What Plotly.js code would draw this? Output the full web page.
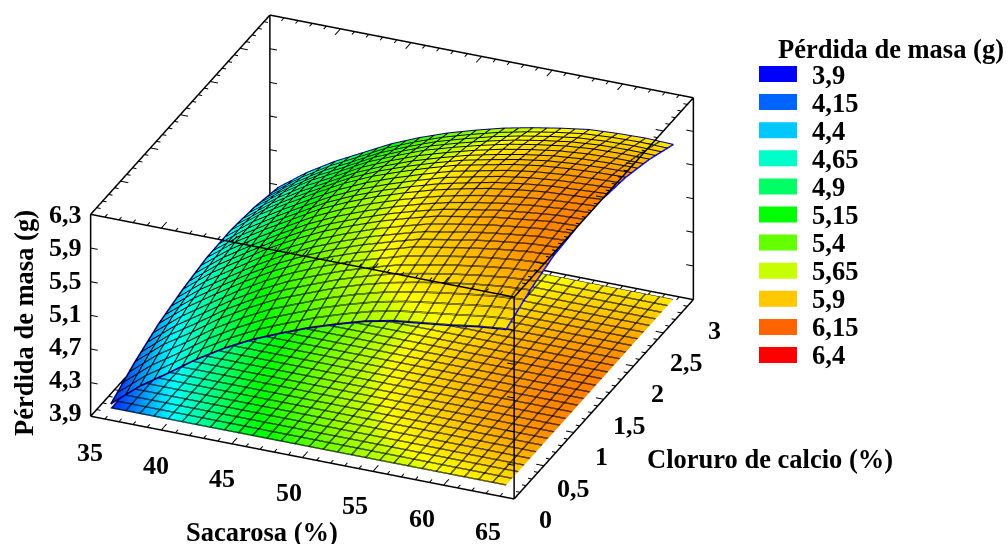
<!DOCTYPE html>
<html>
<head>
<meta charset="utf-8">
<script src="https://cdn.plot.ly/plotly-3.0.1.min.js"></script>
<style>html,body{margin:0;padding:0;background:#fff}#g{width:1008px;height:544px}</style>
</head>
<body>
<div id="g"></div>
<script>
// ---- data ----
const sacarosa = [36,38,40,42,44,46,48,50,52,54,56,58,60,62,63.8,63.9,64];
const cloruro = [0.1,0.5,0.9,1.3,1.7,2.1,2.5,2.9];
const perdida = [
 [4.00,4.27,4.49,4.72,4.92,5.09,5.23,5.36,5.47,5.57,5.64,5.68,5.72,5.77,5.80,5.80,5.80],
 [4.18,4.45,4.66,4.89,5.08,5.25,5.38,5.51,5.62,5.71,5.78,5.84,5.89,5.93,5.95,5.95,5.95],
 [4.32,4.58,4.80,5.01,5.20,5.36,5.50,5.62,5.72,5.82,5.88,5.94,5.99,6.03,6.05,6.05,6.05],
 [4.41,4.67,4.88,5.09,5.27,5.43,5.56,5.68,5.78,5.87,5.93,5.99,6.03,6.07,6.08,6.08,6.08],
 [4.47,4.72,4.93,5.12,5.31,5.46,5.59,5.70,5.80,5.88,5.95,6.00,6.04,6.06,6.08,6.08,6.08],
 [4.48,4.73,4.93,5.12,5.30,5.45,5.57,5.68,5.78,5.85,5.92,5.97,6.00,6.02,6.03,6.03,6.03],
 [4.44,4.68,4.89,5.06,5.24,5.38,5.51,5.61,5.70,5.78,5.84,5.89,5.92,5.93,5.93,5.93,5.93],
 [4.36,4.60,4.80,4.97,5.14,5.28,5.40,5.50,5.59,5.66,5.72,5.77,5.79,5.80,5.79,5.79,5.79]
];
const floorLevel = 3.95;
const legendLevels = ['3,9','4,15','4,4','4,65','4,9','5,15','5,4','5,65','5,9','6,15','6,4'];
const legendValues = [3.9,4.15,4.4,4.65,4.9,5.15,5.4,5.65,5.9,6.15,6.4];
const legendColors = ['#0000ff','#0064ff','#00c8ff','#00ffc8','#00ff64','#00ff00','#64ff00','#c8ff00','#ffc800','#ff6400','#ff0000'];
const hueStopValues = [4.525,5.72];
const hueStopColors = ['#00ffff','#ffff00'];
const xTicks = [35,40,45,50,55,60,65];
const yTicks = [0,0.5,1,1.5,2,2.5,3];
const yTickText = ['0','0,5','1','1,5','2','2,5','3'];
const zTicks = [3.9,4.3,4.7,5.1,5.5,5.9,6.3];
const zTickText = ['3,9','4,3','4,7','5,1','5,5','5,9','6,3'];
const xMinorStep = 1, yMinorStep = 0.1;
const xRange = [35,65], yRange = [0,3], zRange = [3.9,6.3];

// ---- style ----
const W = 1008, H = 544;
const FONT = '"Liberation Serif","Times New Roman",serif';
const cMin = legendValues[0], cMax = legendValues[legendValues.length-1];
const colorscale = [...legendValues.map((v,i)=>[v,legendColors[i]]),...hueStopValues.map((v,i)=>[v,hueStopColors[i]])]
  .sort((a,b)=>a[0]-b[0]).map(([v,c])=>[(v-cMin)/(cMax-cMin),c]);
const meshLine = {show:true,color:'#000',width:2,highlight:false,project:{x:false,y:false,z:false},usecolormap:false};
const meshAt = (dx,dy)=>({
  x:Object.assign({start:36+dx,end:64.01,size:xMinorStep},meshLine),
  y:Object.assign({start:0.1+dy,end:2.91,size:yMinorStep},meshLine),
  z:{show:false,highlight:false}
});
const flat = {ambient:1,diffuse:0,specular:0,roughness:1,fresnel:0};
const common = {x:sacarosa,y:cloruro,colorscale,cmin:cMin,cmax:cMax,
  showscale:false,hoverinfo:'skip',lighting:flat};

// box + ticks
const lx=[],ly=[],lz=[]; const tx=[],ty=[],tz=[];
function seg(a,x0,y0,z0,x1,y1,z1){a[0].push(x0,x1,null);a[1].push(y0,y1,null);a[2].push(z0,z1,null);}
const L=[lx,ly,lz],T=[tx,ty,tz];
const [x0,x1]=xRange,[y0,y1]=yRange,[z0,z1]=zRange;
[[y0,z0],[y1,z0],[y0,z1],[y1,z1]].forEach(([y,z])=>seg(L,x0,y,z,x1,y,z));
[[x0,z0],[x1,z0],[x0,z1],[x1,z1]].forEach(([x,z])=>seg(L,x,y0,z,x,y1,z));
[[x0,y0],[x1,y0],[x0,y1],[x1,y1]].forEach(([x,y])=>seg(L,x,y,z0,x,y,z1));
for(let v=x0;v<=x1+1e-6;v+=xMinorStep){
  const major=Math.abs((v-x0)%5)<1e-6, len=major?0.09:0.045;
  [[y0,1],[y1,-1]].forEach(([y,s])=>[z0,z1].forEach(z=>seg(T,v,y,z,v,y+s*len,z)));
}
for(let i=0;i<=30;i++){
  const v=y0+i*yMinorStep, major=i%5===0, len=major?0.55:0.28;
  [[x0,1],[x1,-1]].forEach(([x,s])=>[z0,z1].forEach(z=>seg(T,x,v,z,x+s*len,v,z)));
}
zTicks.forEach(v=>[[x0,1],[x1,-1]].forEach(([x,s])=>[y0,y1].forEach(y=>seg(T,x,y,v,x+s*0.5,y,v))));

// blue rim of the upper sheet
const n=sacarosa.length-1,m=cloruro.length-1;
const rimX=[...sacarosa,...cloruro.slice(1).map(()=>sacarosa[n]),...sacarosa.slice(0,n).reverse(),...cloruro.slice(0,m).reverse().map(()=>sacarosa[0])];
const rimY=[...sacarosa.map(()=>cloruro[0]),...cloruro.slice(1),...sacarosa.slice(0,n).map(()=>cloruro[m]),...cloruro.slice(0,m).reverse()];
const rimZ=[...perdida[0],...perdida.slice(1).map(r=>r[n]),...perdida[m].slice(0,n).reverse(),...perdida.slice(0,m).reverse().map(r=>r[0])];

const floorZ = perdida.map(r=>r.map(()=>floorLevel));
const traces=[
 Object.assign({type:'surface',z:floorZ,surfacecolor:perdida,contours:meshAt(0,0)},common),
 Object.assign({type:'surface',z:floorZ,surfacecolor:perdida,contours:meshAt(0.07,0.011),hidesurface:true},common),
 Object.assign({type:'surface',z:perdida,surfacecolor:perdida,contours:meshAt(0,0)},common),
 Object.assign({type:'surface',z:perdida,surfacecolor:perdida,contours:meshAt(0.07,0.011),hidesurface:true},common),
 {type:'scatter3d',mode:'lines',x:rimX,y:rimY,z:rimZ,line:{color:'#0000ff',width:3},hoverinfo:'skip',showlegend:false},
 {type:'scatter3d',mode:'lines',x:lx,y:ly,z:lz,line:{color:'#000',width:3},hoverinfo:'skip',showlegend:false,connectgaps:false},
 {type:'scatter3d',mode:'lines',x:tx,y:ty,z:tz,line:{color:'#000',width:2},hoverinfo:'skip',showlegend:false,connectgaps:false}
];

const tickFont={family:FONT,size:26,color:'#000'};
const sceneAnn=[];
xTicks.forEach((v,i)=>sceneAnn.push({x:v,y:y0,z:z0,text:'<b>'+v+'</b>',showarrow:false,font:tickFont,xanchor:'center',yanchor:'middle',xshift:-1-i*25/6,yshift:-36+i*0.5}));
yTicks.forEach((v,i)=>sceneAnn.push({x:x1,y:v,z:z0,text:'<b>'+yTickText[i]+'</b>',showarrow:false,font:tickFont,xanchor:'center',yanchor:'middle',xshift:31-i*10/6,yshift:-21-i*10/6}));
zTicks.forEach((v,i)=>sceneAnn.push({x:x0,y:y0,z:v,text:'<b>'+zTickText[i]+'</b>',showarrow:false,font:tickFont,xanchor:'right',yanchor:'middle',xshift:-7,yshift:4-i*4/6}));

const blank={showgrid:false,zeroline:false,showline:false,showticklabels:false,ticks:'',showspikes:false,showbackground:false,title:{text:''}};
const px=(v)=>v/W, py=(v)=>1-v/H;
const shapes=legendColors.map((c,i)=>({type:'rect',xref:'paper',yref:'paper',
  x0:px(759),x1:px(797),y0:py(66+i*28.1),y1:py(82+i*28.1),fillcolor:c,line:{width:0}}));
const annFont={family:FONT,size:26.5,color:'#000'};
const mid={xref:'paper',yref:'paper',showarrow:false,font:annFont,xanchor:'center',yanchor:'middle'};
const ann=[
 Object.assign({},mid,{x:px(891),y:py(49),text:'<b>Pérdida de masa (g)</b>'}),
 Object.assign({},mid,{x:px(262),y:py(532),text:'<b>Sacarosa (%)</b>'}),
 Object.assign({},mid,{x:px(770),y:py(459),text:'<b>Cloruro de calcio (%)</b>'}),
 Object.assign({},mid,{x:px(24),y:py(323),text:'<b>Pérdida de masa (g)</b>',textangle:-90}),
 ...legendLevels.map((t,i)=>Object.assign({},mid,{x:px(810),y:py(75+i*28),xanchor:'left',text:'<b>'+t+'</b>'}))
];
const R=4;
const layout={
 width:W,height:H,margin:{l:0,r:0,t:0,b:0},paper_bgcolor:'#fff',showlegend:false,
 shapes,annotations:ann,
 scene:{
  domain:{x:[0,784/W],y:[1-514/H,1]},
  bgcolor:'#fff',
  aspectmode:'manual',aspectratio:{x:1.79,y:1.808,z:0.89},
  camera:{projection:{type:'orthographic'},eye:{x:0.342*R,y:-0.816*R,z:0.466*R},center:{x:0,y:0,z:0},up:{x:0,y:0,z:1}},
  xaxis:Object.assign({range:[x0-0.03,x1+0.03]},blank),
  yaxis:Object.assign({range:[y0-0.003,y1+0.003]},blank),
  zaxis:Object.assign({range:[z0-0.003,z1+0.003]},blank),
  annotations:sceneAnn
 }
};
Plotly.newPlot('g',traces,layout,{displayModeBar:false});
</script>
</body>
</html>
